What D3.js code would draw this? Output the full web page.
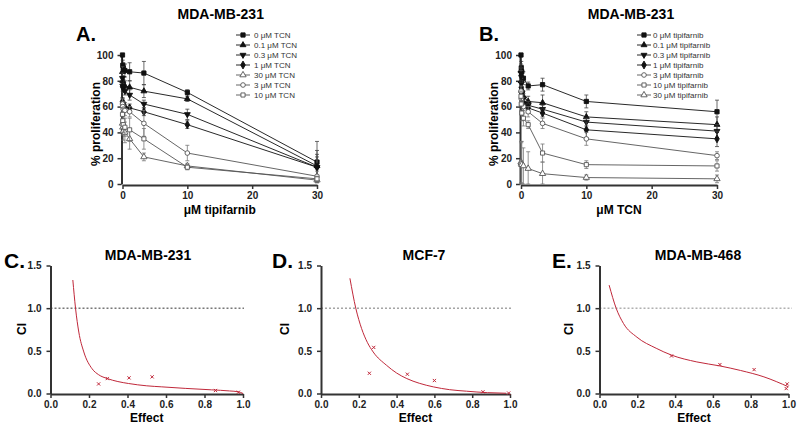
<!DOCTYPE html>
<html><head><meta charset="utf-8">
<script src="https://cdn.jsdelivr.net/npm/d3@7/dist/d3.min.js"></script>
<style>
html,body{margin:0;padding:0;background:#fff;}
svg{display:block;font-family:"Liberation Sans",Arial,sans-serif;}
</style></head>
<body>
<svg id="chart" width="800" height="426"></svg>
<script>
// ---------- DATA ----------
const conc = [0, 0.04, 0.12, 0.37, 1.1, 3.3, 10, 30];
const xTicksTop = [0, 10, 20, 30];
const yTicksTop = [0, 20, 40, 60, 80, 100];

// Panel A: vary tipifarnib, series = TCN dose
const labelsA = ["0 μM TCN","0.1 μM TCN","0.3 μM TCN","1 μM TCN","30 μM TCN","3 μM TCN","10 μM TCN"];
const symbolsA = ["sq","tri","tridown","dia","otri","ocirc","osq"];
const tcn0  = [100, 92, 90, 88, 87, 86, 71, 17];
const tcn01 = [87, 80, 77, 76, 75, 72, 66, 14];
const tcn03 = [82, 76, 74, 72, 69, 62, 54, 13];
const tcn1  = [64, 63, 61, 60, 59, 56, 46, 13];
const tcn30 = [47, 44, 41, 40, 35, 21, 14, 3];
const tcn3  = [62, 60, 58, 57, 56, 47, 24, 6];
const tcn10 = [54, 49, 46, 44, 42, 35, 13, 4];
const errTcn0  = [0, 4, 4, 5, 7, 9, 2, 16];
const errTcn01 = [4, 4, 4, 4, 5, 5, 2, 12];
const errTcn03 = [4, 4, 3, 3, 4, 3, 4, 10];
const errTcn1  = [3, 3, 3, 3, 3, 3, 3, 8];
const errTcn30 = [6, 6, 7, 8, 8, 3, 2, 2];
const errTcn3  = [4, 4, 4, 4, 4, 10, 6, 4];
const errTcn10 = [5, 6, 6, 7, 9, 8, 2, 2];

// Panel B: vary TCN, series = tipifarnib dose
const labelsB = ["0 μM tipifarnib","0.1 μM tipifarnib","0.3 μM tipifarnib","1 μM tipifarnib","3 μM tipifarnib","10 μM tipifarnib","30 μM tipifarnib"];
const symbolsB = ["sq","tri","tridown","dia","ocirc","osq","otri"];
const tip0  = [100, 90, 87, 82, 76, 77, 64, 56];
const tip01 = [88, 80, 73, 68, 64, 63, 52, 46];
const tip03 = [86, 78, 70, 66, 61, 58, 48, 41];
const tip1  = [84, 75, 68, 63, 59, 55, 42, 35];
const tip3  = [72, 66, 62, 60, 56, 47, 35, 22];
const tip10 = [68, 62, 55, 51, 46, 24, 15, 14];
const tip30 = [17, 16, 15, 14, 12, 8, 5, 4];
const errTip0  = [0, 5, 5, 5, 3, 5, 5, 9];
const errTip01 = [5, 5, 5, 4, 4, 6, 4, 6];
const errTip03 = [4, 4, 4, 4, 3, 3, 3, 5];
const errTip1  = [4, 4, 4, 4, 3, 3, 6, 6];
const errTip3  = [4, 5, 5, 5, 4, 4, 5, 3];
const errTip10 = [4, 5, 6, 6, 3, 7, 3, 4];
const errTip30 = [16, 16, 18, 14, 13, 9, 2, 3];

// CI panels
const xTicksCI = [0, 0.2, 0.4, 0.6, 0.8, 1.0];
const yTicksCI = [0, 0.5, 1.0, 1.5];
const curveC_fa = [0.116,0.13,0.147,0.173,0.216,0.25,0.295,0.35,0.406,0.5,0.578,0.7,0.837,0.93,0.976,1.0];
const curveC_ci = [1.33,1.0,0.72,0.487,0.29,0.22,0.175,0.14,0.117,0.09,0.078,0.06,0.043,0.03,0.02,0.0];
const ptsC_fa = [0.25,0.295,0.408,0.528,0.857,0.976];
const ptsC_ci = [0.112,0.175,0.183,0.195,0.035,0.015];
const curveD_fa = [0.153,0.184,0.215,0.245,0.276,0.347,0.4,0.454,0.52,0.594,0.68,0.77,0.88,0.98];
const curveD_ci = [1.35,1.0,0.76,0.6,0.487,0.33,0.24,0.175,0.12,0.078,0.045,0.027,0.01,0.003];
const ptsD_fa = [0.256,0.279,0.457,0.6,0.857,0.993];
const ptsD_ci = [0.237,0.54,0.226,0.152,0.02,0.005];
const curveE_fa = [0.051,0.088,0.127,0.198,0.3,0.381,0.515,0.637,0.746,0.87,1.0];
const curveE_ci = [1.27,1.0,0.82,0.66,0.53,0.45,0.37,0.323,0.27,0.195,0.078];
const ptsE_fa = [0.381,0.637,0.818,0.993,0.988];
const ptsE_ci = [0.44,0.339,0.28,0.112,0.058];

// ---------- DRAW ----------
const svg = d3.select("#chart");
const FONT = '"Liberation Sans",Arial,sans-serif';

function symbolPath(kind){
  const map = {sq:d3.symbolSquare, osq:d3.symbolSquare, tri:d3.symbolTriangle, tridown:d3.symbolTriangle,
               otri:d3.symbolTriangle, dia:d3.symbolDiamond, ocirc:d3.symbolCircle};
  const size = {sq:18, osq:17, tri:15, tridown:15, otri:17, dia:18, ocirc:17}[kind];
  return d3.symbol().type(map[kind]).size(size)();
}
function drawMarker(g, kind, x, y){
  const open = kind.startsWith("o");
  g.append("path").attr("d", symbolPath(kind))
    .attr("transform", `translate(${x},${y})` + (kind==="tridown" ? " rotate(180)" : ""))
    .attr("fill", open ? "#fff" : "#111")
    .attr("stroke", open ? "#555" : "#111")
    .attr("stroke-width", 0.9);
}

function styleAxis(a){
  a.select(".domain").attr("stroke","#333").attr("stroke-width",2);
  a.selectAll(".tick line").attr("stroke","#333").attr("stroke-width",1.5);
  a.selectAll(".tick text").attr("font-family",FONT).attr("font-weight","bold")
    .attr("font-size",10).attr("fill","#222");
}

function topPanel(opt){
  const x = d3.scaleLinear().domain([0,30]).range([opt.x0, opt.x1]);
  const y = d3.scaleLinear().domain([0,100]).range([184, 55]);
  const g = svg.append("g");
  const ax = g.append("g").attr("transform","translate(0,185)")
    .call(d3.axisBottom(x).tickValues(xTicksTop).tickSize(4).tickSizeOuter(0));
  const ay = g.append("g").attr("transform",`translate(${opt.x0-1},0)`)
    .call(d3.axisLeft(y).tickValues(yTicksTop).tickSize(4).tickSizeOuter(0));
  styleAxis(ax); styleAxis(ay);
  ay.selectAll(".tick text").attr("x",-8);
  ax.selectAll(".tick text").attr("y",7);
  opt.series.forEach((s,i)=>{
    const open = s.sym.startsWith("o");
    const col = open ? "#555" : "#111";
    const ecol = open ? "#777" : "#444";
    const line = d3.line().x((d,j)=>x(conc[j])).y(d=>y(d));
    s.vals.forEach((v,j)=>{
      const e = s.err[j]; if(!e) return;
      const cx = x(conc[j]);
      const lo = Math.max(0, v - e), hi = v + e;
      g.append("line").attr("x1",cx).attr("x2",cx).attr("y1",y(lo)).attr("y2",y(hi))
        .attr("stroke", ecol).attr("stroke-width",0.8);
      [lo,hi].forEach(b=>g.append("line").attr("x1",cx-2).attr("x2",cx+2).attr("y1",y(b)).attr("y2",y(b))
        .attr("stroke", ecol).attr("stroke-width",0.8));
    });
    g.append("path").attr("d", line(s.vals)).attr("fill","none").attr("stroke",col).attr("stroke-width",0.9);
    s.vals.forEach((v,j)=>drawMarker(g, s.sym, x(conc[j]), y(v)));
    const ly = 35 + i*10;
    g.append("line").attr("x1",opt.lx-7).attr("x2",opt.lx+7).attr("y1",ly).attr("y2",ly)
      .attr("stroke",col).attr("stroke-width",0.9);
    drawMarker(g, s.sym, opt.lx, ly);
    g.append("text").attr("x",opt.tx).attr("y",ly+3).text(s.label)
      .attr("font-family",FONT).attr("font-size",8).attr("fill","#333");
  });
  g.append("text").attr("x",(opt.x0+opt.x1)/2 + opt.titleDx).attr("y",19).attr("text-anchor","middle")
    .attr("font-family",FONT).attr("font-weight","bold").attr("font-size",14).text("MDA-MB-231");
  g.append("text").attr("x",opt.letterX).attr("y",41).attr("font-family",FONT).attr("font-weight","bold")
    .attr("font-size",20).text(opt.letter);
  g.append("text").attr("x",(opt.x0+opt.x1)/2).attr("y",214).attr("text-anchor","middle")
    .attr("font-family",FONT).attr("font-weight","bold").attr("font-size",12).text(opt.xlabel);
  g.append("text").attr("transform",`translate(${opt.x0-23},124) rotate(-90)`).attr("text-anchor","middle")
    .attr("font-family",FONT).attr("font-weight","bold").attr("font-size",12).text("% proliferation");
}

topPanel({x0:122.5, x1:317, lx:243, tx:254, letter:"A.", letterX:76, titleDx:1, xlabel:"μM tipifarnib",
  series:[
    {label:labelsA[0], sym:symbolsA[0], vals:tcn0,  err:errTcn0},
    {label:labelsA[1], sym:symbolsA[1], vals:tcn01, err:errTcn01},
    {label:labelsA[2], sym:symbolsA[2], vals:tcn03, err:errTcn03},
    {label:labelsA[3], sym:symbolsA[3], vals:tcn1,  err:errTcn1},
    {label:labelsA[4], sym:symbolsA[4], vals:tcn30, err:errTcn30},
    {label:labelsA[5], sym:symbolsA[5], vals:tcn3,  err:errTcn3},
    {label:labelsA[6], sym:symbolsA[6], vals:tcn10, err:errTcn10}
  ]});
topPanel({x0:521, x1:717, lx:644, tx:653, letter:"B.", letterX:479, titleDx:12, xlabel:"μM TCN",
  series:[
    {label:labelsB[0], sym:symbolsB[0], vals:tip0,  err:errTip0},
    {label:labelsB[1], sym:symbolsB[1], vals:tip01, err:errTip01},
    {label:labelsB[2], sym:symbolsB[2], vals:tip03, err:errTip03},
    {label:labelsB[3], sym:symbolsB[3], vals:tip1,  err:errTip1},
    {label:labelsB[4], sym:symbolsB[4], vals:tip3,  err:errTip3},
    {label:labelsB[5], sym:symbolsB[5], vals:tip10, err:errTip10},
    {label:labelsB[6], sym:symbolsB[6], vals:tip30, err:errTip30}
  ]});

function ciPanel(opt){
  const x = d3.scaleLinear().domain([0,1]).range([opt.x0, opt.x1]);
  const y = d3.scaleLinear().domain([0,1.5]).range([393.5, 265.5]);
  const g = svg.append("g");
  g.append("line").attr("x1",opt.x0).attr("x2",opt.dashEnd).attr("y1",y(1)).attr("y2",y(1))
    .attr("stroke",opt.dashCol).attr("stroke-width",1).attr("stroke-dasharray","2,2");
  const ax = g.append("g").attr("transform","translate(0,394)")
    .call(d3.axisBottom(x).tickValues(xTicksCI).tickFormat(d3.format(".1f")).tickSize(4).tickSizeOuter(0));
  const ay = g.append("g").attr("transform",`translate(${opt.x0},0)`)
    .call(d3.axisLeft(y).tickValues(yTicksCI).tickFormat(d3.format(".1f")).tickSize(4).tickSizeOuter(0));
  styleAxis(ax); styleAxis(ay);
  ay.selectAll(".tick text").attr("x",-9);
  ax.selectAll(".tick text").attr("y",7);
  const line = d3.line().x((d,i)=>x(opt.cfa[i])).y(d=>y(d)).curve(d3.curveMonotoneX);
  g.append("path").attr("d", line(opt.cci)).attr("fill","none").attr("stroke","#c0283a").attr("stroke-width",1);
  opt.pfa.forEach((fa,i)=>{
    const cx = x(fa), cy = y(opt.pci[i]);
    g.append("path").attr("d",`M${cx-1.6},${cy-1.6}L${cx+1.6},${cy+1.6}M${cx-1.6},${cy+1.6}L${cx+1.6},${cy-1.6}`)
      .attr("stroke","#c0283a").attr("stroke-width",1).attr("fill","none");
  });
  g.append("text").attr("x",opt.titleX).attr("y",260).attr("text-anchor","middle")
    .attr("font-family",FONT).attr("font-weight","bold").attr("font-size",14).text(opt.title);
  g.append("text").attr("x",opt.letterX).attr("y",268).attr("font-family",FONT).attr("font-weight","bold")
    .attr("font-size",21).text(opt.letter);
  g.append("text").attr("x",(opt.x0+opt.x1)/2).attr("y",422).attr("text-anchor","middle")
    .attr("font-family",FONT).attr("font-weight","bold").attr("font-size",12).text("Effect");
  g.append("text").attr("transform",`translate(${opt.x0-opt.ciOff},329) rotate(-90)`).attr("text-anchor","middle")
    .attr("font-family",FONT).attr("font-weight","bold").attr("font-size",12).text("CI");
}

ciPanel({x0:50.5, x1:243, dashEnd:244, dashCol:"#333", title:"MDA-MB-231", titleX:148, letter:"C.", letterX:4, ciOff:25,
  cfa:curveC_fa, cci:curveC_ci, pfa:ptsC_fa, pci:ptsC_ci});
ciPanel({x0:321, x1:510, dashEnd:513, dashCol:"#777", title:"MCF-7", titleX:424, letter:"D.", letterX:272, ciOff:32,
  cfa:curveD_fa, cci:curveD_ci, pfa:ptsD_fa, pci:ptsD_ci});
ciPanel({x0:599.5, x1:788.5, dashEnd:792, dashCol:"#888", title:"MDA-MB-468", titleX:698, letter:"E.", letterX:552, ciOff:27,
  cfa:curveE_fa, cci:curveE_ci, pfa:ptsE_fa, pci:ptsE_ci});
</script>
</body></html>
